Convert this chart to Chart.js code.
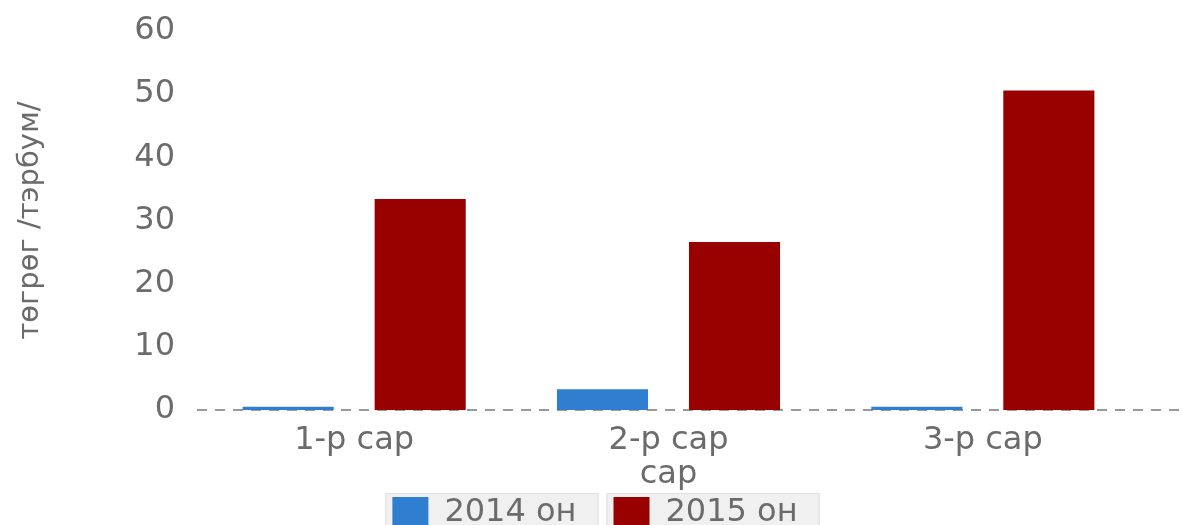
<!DOCTYPE html>
<html>
<head>
<meta charset="utf-8">
<script src="https://cdn.jsdelivr.net/npm/chart.js@4.4.1/dist/chart.umd.min.js"></script>
<style>
  html, body { margin: 0; padding: 0; background: #fff; overflow: hidden; }
  #wrap { width: 1182px; height: 560px; }
</style>
</head>
<body>
<div id="wrap"><canvas id="myChart" width="1182" height="560"></canvas></div>
<script>
// data
const months = ['1-р сар', '2-р сар', '3-р сар'];
const seriesNames = ['2014 он', '2015 он'];
const values2014 = [0.5, 3.3, 0.5];
const values2015 = [33.4, 26.6, 50.6];
const yTicks = [0, 10, 20, 30, 40, 50, 60];

const textGrey = '#6b6b6b';
const font = 'DejaVu Sans';

// grey tile behind each legend item
const legendTiles = {
  id: 'legendTiles',
  beforeDraw(chart) {
    const ctx = chart.ctx;
    ctx.save();
    chart.legend.legendHitBoxes.forEach(b => {
      ctx.fillStyle = '#f0f0f0';
      ctx.strokeStyle = '#e0e0e0';
      ctx.lineWidth = 1;
      ctx.fillRect(b.left - 7, b.top - 4, b.width + 29, b.height + 30);
      ctx.strokeRect(b.left - 6.5, b.top - 3.5, b.width + 28, b.height + 30);
    });
    ctx.restore();
  }
};

// dashed zero line, runs on to the right edge
const zeroLine = {
  id: 'zeroLine',
  beforeDatasetsDraw(chart) {
    const ctx = chart.ctx;
    const y = Math.round(chart.scales.y.getPixelForValue(0));
    ctx.save();
    ctx.strokeStyle = '#9a9a9a';
    ctx.lineWidth = 2;
    ctx.setLineDash([10, 8]);
    ctx.beginPath();
    ctx.moveTo(chart.chartArea.left, y);
    ctx.lineTo(chart.width, y);
    ctx.stroke();
    ctx.restore();
  }
};

const myChartRef = document.getElementById('myChart').getContext('2d');

new Chart(myChartRef, {
  type: 'bar',
  data: {
    labels: months,
    datasets: [
      {
        label: seriesNames[0],
        data: values2014,
        backgroundColor: '#2f7ed0'
      },
      {
        label: seriesNames[1],
        data: values2015,
        backgroundColor: '#990000'
      }
    ]
  },
  options: {
    responsive: false,
    animation: false,
    categoryPercentage: 0.84,
    barPercentage: 0.69,
    layout: {
      padding: {left: 8, right: 0, top: 31, bottom: 21}
    },
    scales: {
      x: {
        grid: {display: false, drawTicks: false},
        border: {display: false},
        ticks: {color: textGrey, padding: 11, font: {family: font, size: 32}},
        title: {
          display: true,
          text: 'сар',
          color: textGrey,
          font: {family: font, size: 32},
          padding: {top: 0, bottom: -34}
        },
        afterFit(scale) {
          scale.height = 50;
          scale.paddingLeft = 0;
          scale.paddingRight = 0;
        }
      },
      y: {
        min: 0,
        max: 60,
        grid: {display: false, drawTicks: false},
        border: {display: false},
        ticks: {color: textGrey, padding: 22, font: {family: font, size: 32}},
        afterBuildTicks(scale) {
          scale.ticks = yTicks.map(v => ({value: v}));
        },
        title: {
          display: true,
          text: 'төгрөг /тэрбум/',
          color: textGrey,
          font: {family: font, size: 29},
          padding: {top: 5, bottom: 0}
        },
        afterFit(scale) {
          scale.width = 189;
          scale.paddingTop = 0;
          scale.paddingBottom = 0;
        }
      },
      yRight: {
        position: 'right',
        display: true,
        grid: {display: false, drawTicks: false},
        border: {display: false},
        ticks: {display: false},
        afterFit(scale) {
          scale.width = 42;
          scale.paddingTop = 0;
          scale.paddingBottom = 0;
        }
      }
    },
    plugins: {
      tooltip: {enabled: false},
      legend: {
        position: 'bottom',
        labels: {
          color: textGrey,
          boxWidth: 36,
          boxHeight: 32,
          padding: 37,
          font: {family: font, size: 32}
        }
      }
    }
  },
  plugins: [legendTiles, zeroLine]
});
</script>
</body>
</html>
